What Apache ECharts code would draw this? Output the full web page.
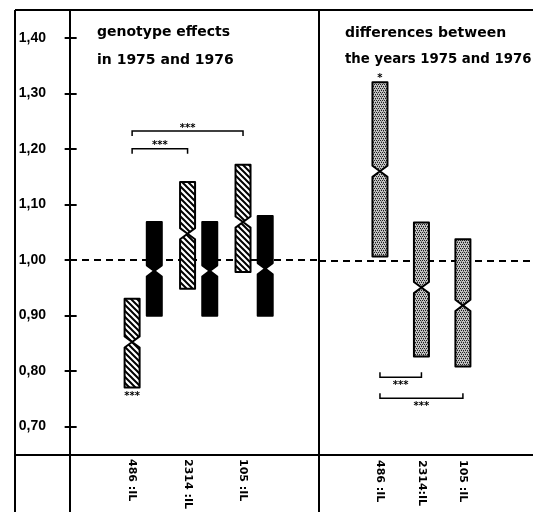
<!DOCTYPE html>
<html><head><meta charset="utf-8">
<script src="https://cdn.jsdelivr.net/npm/echarts@6/dist/echarts.min.js"></script>
<style>html,body{margin:0;padding:0;background:#fff}#c{width:533px;height:512px}</style>
</head><body><div id="c"></div>
<script>
// ---------- data ----------
const yTicks = [0.70, 0.80, 0.90, 1.00, 1.10, 1.20, 1.30, 1.40];
const genotypes = ['486 :IL', '2314 :IL', '105 :IL'];
const diffGenotypes = ['486 :IL', '2314:IL', '105 :IL'];
const genotypePos = [1, 2, 3];

const effects1975Low = [0.770, 0.948, 0.978];
const effects1975Median = [0.852, 1.047, 1.068];
const effects1975High = [0.930, 1.140, 1.171];

const effects1976Low = [0.899, 0.899, 0.899];
const effects1976Median = [0.980, 0.980, 0.984];
const effects1976High = [1.068, 1.068, 1.079];

const diffLow = [1.007, 0.827, 0.809];
const diffMedian = [1.160, 0.951, 0.919];
const diffHigh = [1.320, 1.068, 1.038];

const notchHalf = [0.010, 0.010, 0.010];

const effectsSig = ['***', '', ''];
const diffSig = ['*', '', ''];

const effectsBracketFrom = [1, 1];
const effectsBracketTo = [2, 3];
const effectsBracketLevel = [1.200, 1.232];
const effectsBracketLabel = ['***', '***'];

const diffBracketFrom = [1, 1];
const diffBracketTo = [2, 3];
const diffBracketLevel = [0.790, 0.752];
const diffBracketLabel = ['***', '***'];

const refLevel = 1.00;

const titleLeft = ['genotype effects', 'in 1975 and 1976'];
const titleRight = ['differences between', 'the years 1975 and 1976'];

// ---------- styles ----------
function makeHatch() {
  const c = document.createElement('canvas'); c.width = 6; c.height = 6;
  const g = c.getContext('2d');
  g.fillStyle = '#fff'; g.fillRect(0, 0, 6, 6);
  g.strokeStyle = '#000'; g.lineWidth = 2;
  g.beginPath();
  g.moveTo(-1, -1); g.lineTo(7, 7);
  g.moveTo(-1, 5); g.lineTo(1, 7);
  g.moveTo(5, -1); g.lineTo(7, 1);
  g.stroke();
  return c;
}
function makeStipple() {
  const c = document.createElement('canvas'); c.width = 4; c.height = 4;
  const g = c.getContext('2d');
  g.fillStyle = '#c4c4c4'; g.fillRect(0, 0, 4, 4);
  g.fillStyle = '#202020';
  g.fillRect(0, 0, 1, 1); g.fillRect(2, 0, 1, 1);
  g.fillRect(1, 2, 1, 1); g.fillRect(3, 2, 1, 1);
  g.fillStyle = '#777';
  g.fillRect(1, 1, 1, 1); g.fillRect(3, 3, 1, 1);
  return c;
}
const hatchFill = { image: makeHatch(), repeat: 'repeat' };
const stippleFill = { image: makeStipple(), repeat: 'repeat' };
const FONT = 'DejaVu Sans';

function boxRender(fill, stroke, sigArr, sigAbove) {
  return function (params, api) {
    const x = api.value(0), lo = api.value(1), md = api.value(2), hi = api.value(3), n = api.value(4);
    const pLo = api.coord([x, lo]), pMd = api.coord([x, md]), pHi = api.coord([x, hi]);
    const yNl = api.coord([x, md - n])[1], yNh = api.coord([x, md + n])[1];
    const cx = pLo[0], w = 7.5;
    const children = [{
      type: 'polygon',
      shape: { points: [
        [cx - w, pHi[1]], [cx - w, yNh], [cx, pMd[1]], [cx - w, yNl], [cx - w, pLo[1]],
        [cx + w, pLo[1]], [cx + w, yNl], [cx, pMd[1]], [cx + w, yNh], [cx + w, pHi[1]]
      ] },
      style: { fill: fill, stroke: stroke, lineWidth: 2, lineJoin: 'round' }
    }];
    const s = sigArr[params.dataIndex];
    if (s) {
      children.push({
        type: 'text',
        style: { text: s, x: cx, y: sigAbove ? pHi[1] - 4 : pLo[1] + 9,
          align: 'center', verticalAlign: 'middle',
          font: 'bold 10px ' + FONT, fill: '#000' }
      });
    }
    return { type: 'group', children: children };
  };
}

function bracketRender(labels, labelAbove) {
  return function (params, api) {
    const lvl = api.value(2);
    const p1 = api.coord([api.value(0), lvl]);
    const p2 = api.coord([api.value(1), lvl]);
    const d = labelAbove ? 5 : -5;
    return {
      type: 'group',
      children: [{
        type: 'polyline',
        shape: { points: [[p1[0], p1[1] + d], [p1[0], p1[1]], [p2[0], p2[1]], [p2[0], p2[1] + d]] },
        style: { stroke: '#000', lineWidth: 1.5, fill: null }
      }, {
        type: 'text',
        style: { text: labels[params.dataIndex], x: (p1[0] + p2[0]) / 2,
          y: labelAbove ? p1[1] - 3 : p1[1] + 8,
          align: 'center', verticalAlign: 'middle',
          font: 'bold 10px ' + FONT, fill: '#000' }
      }]
    };
  };
}

const data1975 = genotypePos.map((p, i) => [p, effects1975Low[i], effects1975Median[i], effects1975High[i], notchHalf[i]]);
const data1976 = genotypePos.map((p, i) => [p + 0.4, effects1976Low[i], effects1976Median[i], effects1976High[i], notchHalf[i]]);
const dataDiff = genotypePos.map((p, i) => [p, diffLow[i], diffMedian[i], diffHigh[i], notchHalf[i]]);
const dataEffBr = effectsBracketFrom.map((f, i) => [f, effectsBracketTo[i], effectsBracketLevel[i]]);
const dataDiffBr = diffBracketFrom.map((f, i) => [f, diffBracketTo[i], diffBracketLevel[i]]);

const fmtTick = v => v.toFixed(2).replace('.', ',');

const xLabelStyle = {
  rotate: -90, margin: 5, color: '#000',
  fontFamily: FONT, fontWeight: 'bold', fontSize: 11
};

const dashLine = (xi, yi) => ({
  type: 'line', xAxisIndex: xi, yAxisIndex: yi, data: [], z: 1,
  markLine: {
    silent: true, symbol: 'none', label: { show: false },
    lineStyle: { type: [7, 5], color: '#000', width: 2 },
    data: [{ yAxis: refLevel }]
  }
});

const frame = (x1, y1, x2, y2) => ({
  type: 'line', z: 100, silent: true,
  shape: { x1: x1, y1: y1, x2: x2, y2: y2 },
  style: { stroke: '#000', lineWidth: 2 }
});

const titleText = (txt, left, top, size) => ({
  text: txt, left: left, top: top, padding: 0,
  textStyle: { fontFamily: FONT, fontWeight: 'bold', fontSize: size, color: '#000' }
});

const chart = echarts.init(document.getElementById('c'), null, { renderer: 'canvas' });
chart.setOption({
  animation: false,
  backgroundColor: '#fff',
  title: [
    titleText(titleLeft[0], 97, 25, 14),
    titleText(titleLeft[1], 97, 53, 14),
    titleText(titleRight[0], 345, 26, 14),
    titleText(titleRight[1], 345, 53, 13.3)
  ],
  grid: [
    { left: 70, top: 10, width: 249, height: 445, show: false },
    { left: 319, top: 10, width: 214, height: 445, show: false }
  ],
  xAxis: [{
    gridIndex: 0, type: 'value', min: -0.12, max: 4.37,
    axisLine: { show: false }, axisTick: { show: false }, splitLine: { show: false },
    axisLabel: Object.assign({ customValues: genotypePos, formatter: v => genotypes[Math.round(v) - 1] }, xLabelStyle)
  }, {
    gridIndex: 1, type: 'value', min: -0.47, max: 4.69,
    axisLine: { show: false }, axisTick: { show: false }, splitLine: { show: false },
    axisLabel: Object.assign({ customValues: genotypePos, formatter: v => diffGenotypes[Math.round(v) - 1] }, xLabelStyle)
  }],
  yAxis: [{
    gridIndex: 0, type: 'value', min: 0.65, max: 1.45,
    axisLine: { show: false }, splitLine: { show: false },
    axisTick: { show: true, customValues: yTicks, length: 12, lineStyle: { color: '#000', width: 2 } },
    axisLabel: { customValues: yTicks, formatter: fmtTick, margin: 24, color: '#000',
      fontFamily: 'Liberation Sans', fontWeight: 'bold', fontSize: 14 }
  }, {
    gridIndex: 1, type: 'value', min: 0.65, max: 1.45, show: false,
    splitLine: { show: false }
  }],
  series: [
    dashLine(0, 0),
    dashLine(1, 1),
    { type: 'custom', xAxisIndex: 0, yAxisIndex: 0, z: 5, clip: false, data: data1975,
      renderItem: boxRender(hatchFill, '#000', effectsSig, false) },
    { type: 'custom', xAxisIndex: 0, yAxisIndex: 0, z: 5, clip: false, data: data1976,
      renderItem: boxRender('#000', '#000', ['', '', ''], false) },
    { type: 'custom', xAxisIndex: 0, yAxisIndex: 0, z: 5, clip: false, data: dataEffBr,
      renderItem: bracketRender(effectsBracketLabel, true) },
    { type: 'custom', xAxisIndex: 1, yAxisIndex: 1, z: 5, clip: false, data: dataDiff,
      renderItem: boxRender(stippleFill, '#000', diffSig, true) },
    { type: 'custom', xAxisIndex: 1, yAxisIndex: 1, z: 5, clip: false, data: dataDiffBr,
      renderItem: bracketRender(diffBracketLabel, false) }
  ],
  graphic: [
    frame(15, 10, 533, 10),
    frame(15, 455, 533, 455),
    frame(15, 10, 15, 512),
    frame(70, 10, 70, 512),
    frame(319, 10, 319, 512)
  ]
});
</script></body></html>
